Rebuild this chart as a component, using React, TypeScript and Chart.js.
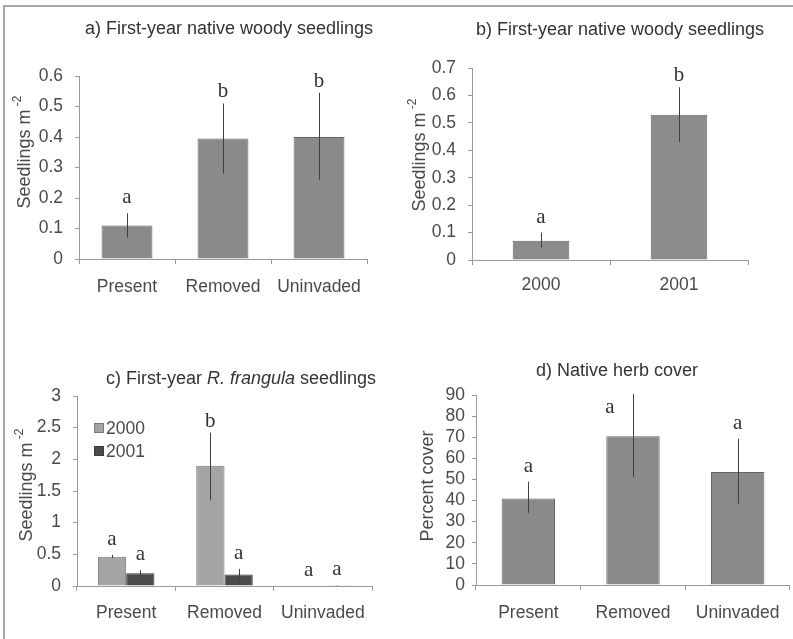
import React, { useEffect, useRef } from "react";
import { Chart, registerables } from "chart.js";

Chart.register(...registerables);

// ---------- data ----------
const treatments = ["Present", "Removed", "Uninvaded"];
const years = ["2000", "2001"];

// a) First-year native woody seedlings by treatment
const aMeans = [0.11, 0.395, 0.4];
const aLow = [0.07, 0.28, 0.26];
const aHigh = [0.15, 0.51, 0.545];
const aLetters = ["a", "b", "b"];

// b) First-year native woody seedlings by year
const bMeans = [0.07, 0.53];
const bLow = [0.045, 0.43];
const bHigh = [0.1, 0.63];
const bLetters = ["a", "b"];

// c) First-year R. frangula seedlings
const c2000Means = [0.46, 1.9, 0];
const c2000Low = [0.44, 1.35, 0];
const c2000High = [0.49, 2.42, 0];
const c2000Letters = ["a", "b", "a"];
const c2001Means = [0.2, 0.18, 0.01];
const c2001Low = [0.16, 0.1, 0.005];
const c2001High = [0.25, 0.27, 0.015];
const c2001Letters = ["a", "a", "a"];

// d) Native herb cover
const dMeans = [41, 70.5, 53.5];
const dLow = [34, 51, 38.4];
const dHigh = [49, 90.5, 69.3];
const dLetters = ["a", "a", "a"];

// ---------- styling ----------
const SANS = '"Liberation Sans", Arial, sans-serif';
const SERIF = '"Liberation Serif", "Times New Roman", serif';
const FS = 17.5;
const TFS = 18;
const AXIS = "#9a9a9a";
const TICKTXT = "#4a4a4a";
const TITLETXT = "#333333";

type Seg = { text: string; italic?: boolean };
type Series = {
  label: string;
  values: number[];
  low: number[];
  high: number[];
  letters: string[];
  c1: string;
  c2: string;
  border: string;
};
type Spec = {
  w: number;
  h: number;
  x: number;
  y: number;
  labels: string[];
  series: Series[];
  yMax: number;
  yStep: number;
  pad: { left: number; top: number; right: number; bottom: number };
  catPct: number;
  yTickPad: number;
  xTickPad: number;
  title: Seg[];
  titleX: number;
  titleY: number;
  yTitle: string;
  ySup?: string;
  yTitleX: number;
  yTitleY: number;
  legend?: { x: number; y: number; gap: number };
};

function makePattern(c1: string, c2: string) {
  const cv = document.createElement("canvas");
  cv.width = 2;
  cv.height = 2;
  const g = cv.getContext("2d")!;
  g.fillStyle = c1;
  g.fillRect(0, 0, 2, 2);
  g.fillStyle = c2;
  g.fillRect(0, 0, 1, 1);
  g.fillRect(1, 1, 1, 1);
  return g.createPattern(cv, "repeat") as CanvasPattern;
}

const specs: Spec[] = [
  {
    w: 393, h: 300, x: 0, y: 0,
    labels: treatments,
    series: [
      { label: "mean", values: aMeans, low: aLow, high: aHigh, letters: aLetters, c1: "#838383", c2: "#919191", border: "#666666" },
    ],
    yMax: 0.6, yStep: 0.1,
    pad: { left: 79, top: 76, right: 26, bottom: 41 },
    catPct: 0.53, yTickPad: 12, xTickPad: 13,
    title: [{ text: "a) First-year native woody seedlings" }],
    titleX: 229, titleY: 29,
    yTitle: "Seedlings m", ySup: "-2", yTitleX: 25, yTitleY: 152,
  },
  {
    w: 400, h: 300, x: 393, y: 0,
    labels: years,
    series: [
      { label: "mean", values: bMeans, low: bLow, high: bHigh, letters: bLetters, c1: "#858585", c2: "#939393", border: "#666666" },
    ],
    yMax: 0.7, yStep: 0.1,
    pad: { left: 79, top: 68, right: 45, bottom: 40 },
    catPct: 0.41, yTickPad: 12, xTickPad: 10,
    title: [{ text: "b) First-year native woody seedlings" }],
    titleX: 227, titleY: 30,
    yTitle: "Seedlings m", ySup: "-2", yTitleX: 27, yTitleY: 155,
  },
  {
    w: 393, h: 339, x: 0, y: 300,
    labels: treatments,
    series: [
      { label: "2000", values: c2000Means, low: c2000Low, high: c2000High, letters: c2000Letters, c1: "#9e9e9e", c2: "#aaaaaa", border: "#7a7a7a" },
      { label: "2001", values: c2001Means, low: c2001Low, high: c2001High, letters: c2001Letters, c1: "#454545", c2: "#505050", border: "#3a3a3a" },
    ],
    yMax: 3, yStep: 0.5,
    pad: { left: 77, top: 96, right: 21, bottom: 53 },
    catPct: 0.575, yTickPad: 12, xTickPad: 12,
    title: [{ text: "c) First-year " }, { text: "R. frangula", italic: true }, { text: " seedlings" }],
    titleX: 241, titleY: 79,
    yTitle: "Seedlings m", ySup: "-2", yTitleX: 27, yTitleY: 185,
    legend: { x: 94, y: 128, gap: 23 },
  },
  {
    w: 400, h: 339, x: 393, y: 300,
    labels: treatments,
    series: [
      { label: "mean", values: dMeans, low: dLow, high: dHigh, letters: dLetters, c1: "#838383", c2: "#919191", border: "#666666" },
    ],
    yMax: 90, yStep: 10,
    pad: { left: 83, top: 95, right: 3, bottom: 54 },
    catPct: 0.51, yTickPad: 7, xTickPad: 13,
    title: [{ text: "d) Native herb cover" }],
    titleX: 224, titleY: 71,
    yTitle: "Percent cover", yTitleX: 35, yTitleY: 186,
  },
];

function overlayPlugin(spec: Spec) {
  return {
    id: "overlay",
    afterDatasetsDraw(chart: any) {
      const ctx = chart.ctx as CanvasRenderingContext2D;
      const ys = chart.scales.y;
      const area = chart.chartArea;
      spec.series.forEach((s, di) => {
        const meta = chart.getDatasetMeta(di);
        meta.data.forEach((el: any, i: number) => {
          const x = Math.round(el.x) + 0.5;
          const pLow = ys.getPixelForValue(s.low[i]);
          const pHigh = ys.getPixelForValue(s.high[i]);
          ctx.save();
          ctx.strokeStyle = "#404040";
          ctx.lineWidth = 1;
          ctx.beginPath();
          ctx.moveTo(x, pLow);
          ctx.lineTo(x, pHigh);
          ctx.stroke();
          const letter = s.letters[i];
          const gap = letter === "b" ? 6 : 10;
          let ly = pHigh - gap;
          let lx = el.x;
          if (ly < area.top) {
            lx = el.x - 23;
            ly = area.top + 18;
          }
          ctx.font = `21px ${SERIF}`;
          ctx.fillStyle = TITLETXT;
          ctx.textAlign = "center";
          ctx.textBaseline = "alphabetic";
          ctx.fillText(letter, lx, ly);
          ctx.restore();
        });
      });
    },
    afterDraw(chart: any) {
      const ctx = chart.ctx as CanvasRenderingContext2D;
      ctx.save();
      // title
      ctx.fillStyle = TITLETXT;
      ctx.textBaseline = "middle";
      ctx.textAlign = "left";
      const fontFor = (it?: boolean) => `${it ? "italic " : ""}${TFS}px ${SANS}`;
      let total = 0;
      spec.title.forEach((sg) => {
        ctx.font = fontFor(sg.italic);
        total += ctx.measureText(sg.text).width;
      });
      let tx = spec.titleX - total / 2;
      spec.title.forEach((sg) => {
        ctx.font = fontFor(sg.italic);
        ctx.fillText(sg.text, tx, spec.titleY);
        tx += ctx.measureText(sg.text).width;
      });
      // y title (rotated)
      ctx.translate(spec.yTitleX, spec.yTitleY);
      ctx.rotate(-Math.PI / 2);
      ctx.fillStyle = TICKTXT;
      ctx.font = `${TFS}px ${SANS}`;
      const mainW = ctx.measureText(spec.yTitle).width;
      let supW = 0;
      const supFont = `12px ${SANS}`;
      if (spec.ySup) {
        ctx.font = supFont;
        supW = ctx.measureText(" " + spec.ySup).width;
      }
      const start = -(mainW + supW) / 2;
      ctx.font = `${TFS}px ${SANS}`;
      ctx.fillText(spec.yTitle, start, 0);
      if (spec.ySup) {
        ctx.font = supFont;
        ctx.fillText(" " + spec.ySup, start + mainW, -7);
      }
      ctx.restore();
      // legend
      if (spec.legend) {
        const lg = spec.legend;
        ctx.save();
        spec.series.forEach((s, i) => {
          const cy = lg.y + i * lg.gap;
          ctx.fillStyle = makePattern(s.c1, s.c2);
          ctx.fillRect(lg.x, cy - 5, 10, 10);
          ctx.strokeStyle = s.border;
          ctx.lineWidth = 1;
          ctx.strokeRect(lg.x + 0.5, cy - 4.5, 9, 9);
          ctx.fillStyle = TICKTXT;
          ctx.font = `${FS}px ${SANS}`;
          ctx.textBaseline = "middle";
          ctx.textAlign = "left";
          ctx.fillText(s.label, lg.x + 12, cy + 1);
        });
        ctx.restore();
      }
    },
  };
}

function Panel({ spec }: { spec: Spec }) {
  const ref = useRef<HTMLCanvasElement | null>(null);
  useEffect(() => {
    if (!ref.current) return;
    const chart = new Chart(ref.current, {
      type: "bar",
      data: {
        labels: spec.labels,
        datasets: spec.series.map((s) => ({
          label: s.label,
          data: s.values,
          backgroundColor: makePattern(s.c1, s.c2),
          borderColor: s.border,
          borderWidth: 1,
          categoryPercentage: spec.catPct,
          barPercentage: 1,
        })),
      },
      options: {
        animation: false,
        responsive: false,
        maintainAspectRatio: false,
        events: [],
        layout: { padding: { left: 0, top: spec.pad.top, right: spec.pad.right, bottom: 0 } },
        plugins: {
          legend: { display: false },
          title: { display: false },
          tooltip: { enabled: false },
        },
        scales: {
          x: {
            afterFit: (s: any) => {
              s.height = spec.pad.bottom;
            },
            grid: {
              display: true,
              drawOnChartArea: false,
              drawTicks: true,
              tickLength: 5,
              color: AXIS,
              offset: true,
            },
            border: { color: AXIS, width: 1 },
            ticks: {
              padding: spec.xTickPad,
              color: TICKTXT,
              font: { family: SANS, size: FS },
              maxRotation: 0,
              autoSkip: false,
            },
          },
          y: {
            min: 0,
            max: spec.yMax,
            afterFit: (s: any) => {
              s.width = spec.pad.left;
            },
            grid: {
              display: true,
              drawOnChartArea: false,
              drawTicks: true,
              tickLength: 4,
              color: AXIS,
            },
            border: { color: AXIS, width: 1 },
            ticks: {
              stepSize: spec.yStep,
              autoSkip: false,
              padding: spec.yTickPad,
              color: TICKTXT,
              font: { family: SANS, size: FS },
              callback: (v: any) => String(Math.round(Number(v) * 10) / 10),
            },
          },
        },
      },
      plugins: [overlayPlugin(spec)],
    } as any);
    return () => chart.destroy();
  }, [spec]);
  return (
    <canvas
      ref={ref}
      width={spec.w}
      height={spec.h}
      style={{ position: "absolute", left: spec.x, top: spec.y, width: spec.w, height: spec.h }}
    />
  );
}

export default function App() {
  return (
    <div
      style={{
        position: "absolute",
        left: 0,
        top: 0,
        width: 793,
        height: 639,
        overflow: "hidden",
        background: "#ffffff",
      }}
    >
      <div
        style={{
          position: "absolute",
          left: 3,
          top: 5,
          width: 800,
          height: 700,
          borderTop: "2px solid #a8a8a8",
          borderLeft: "2px solid #a8a8a8",
        }}
      />
      {specs.map((s, i) => (
        <Panel key={i} spec={s} />
      ))}
    </div>
  );
}
